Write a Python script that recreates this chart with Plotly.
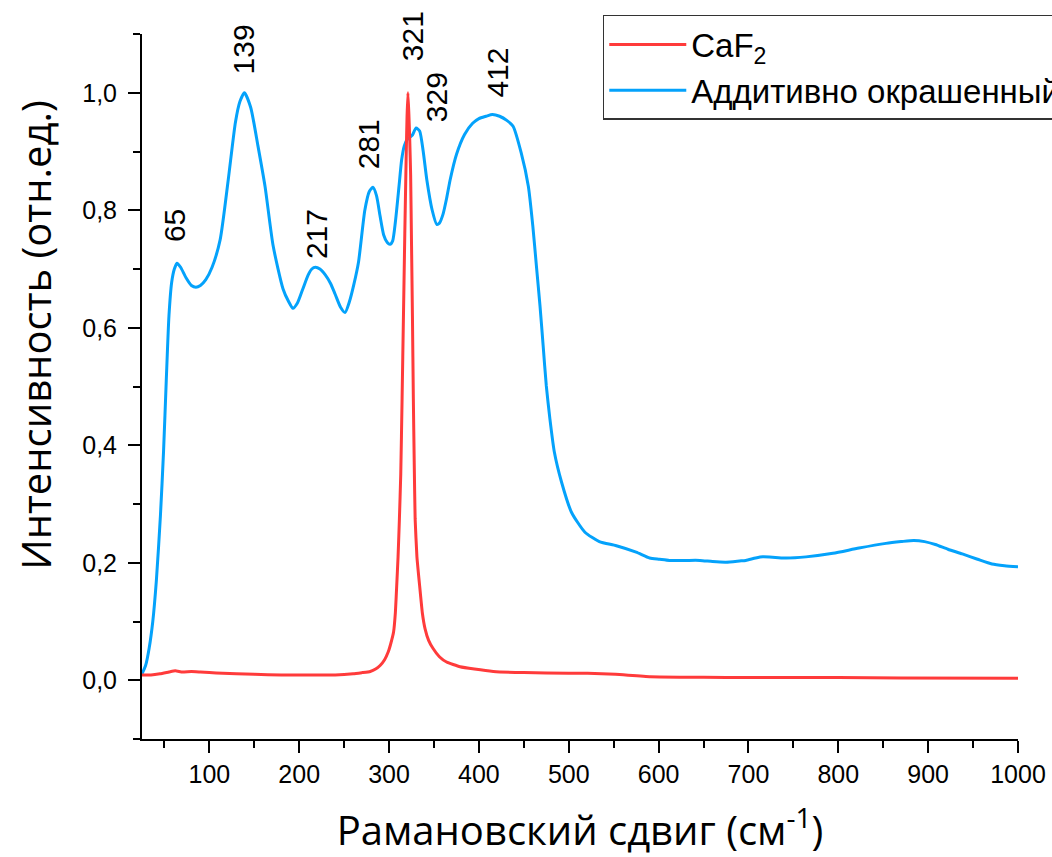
import plotly.graph_objects as go

# ---- data ----
blue_x = [25, 29, 33, 37, 41, 45.5, 49, 52, 55, 58, 61, 64, 68, 74, 80, 85, 90, 96,
          103, 112, 121, 129, 134, 139, 146, 154, 162, 171, 182, 188, 193, 198, 204,
          210, 214, 218, 223, 229, 235, 240, 246, 251, 256, 261, 266, 273, 278, 282,
          286, 290, 294, 298, 301, 304, 307, 311, 314, 317, 320, 323, 326, 330, 334,
          338, 342, 348, 353, 356, 360, 364, 368, 375, 384, 393, 400, 408, 415, 423,
          431, 438, 447, 455, 460, 464, 468, 471.5, 475, 479, 484, 492, 503, 518, 534,
          553, 575, 590, 601, 612, 630, 646, 660, 675, 690, 697, 708, 716, 730, 742,
          764, 794, 823, 853, 870, 884, 896, 908, 922, 938, 955, 971, 985, 1000]
blue_y = [0.011, 0.025, 0.055, 0.10, 0.17, 0.28, 0.39, 0.51, 0.62, 0.677, 0.70, 0.71,
          0.703, 0.685, 0.672, 0.669, 0.672, 0.682, 0.703, 0.75, 0.852, 0.95, 0.985,
          1.0, 0.975, 0.91, 0.84, 0.739, 0.666, 0.645, 0.633, 0.642, 0.666, 0.69, 0.70,
          0.703, 0.70, 0.69, 0.675, 0.657, 0.635, 0.626, 0.645, 0.675, 0.712, 0.80,
          0.832, 0.839, 0.825, 0.79, 0.758, 0.745, 0.742, 0.748, 0.78, 0.84, 0.886,
          0.91, 0.92, 0.924, 0.928, 0.94, 0.935, 0.90, 0.852, 0.80, 0.776, 0.778,
          0.793, 0.82, 0.852, 0.895, 0.929, 0.948, 0.956, 0.96, 0.963, 0.96, 0.953,
          0.943, 0.898, 0.841, 0.773, 0.705, 0.637, 0.569, 0.501, 0.445, 0.388, 0.337,
          0.286, 0.252, 0.236, 0.229, 0.218, 0.208, 0.206, 0.204, 0.204, 0.204, 0.202,
          0.201, 0.203, 0.204, 0.208, 0.21, 0.209, 0.208, 0.21, 0.216, 0.225, 0.233,
          0.236, 0.238, 0.236, 0.231, 0.223, 0.215, 0.206, 0.198, 0.195, 0.193]

red_x = [25, 35, 45, 55, 62, 70, 80, 90, 100, 115, 130, 150, 180, 210, 240, 260, 270,
         279, 285, 290, 295, 299, 302, 305, 307, 308.5, 310, 311.5, 313, 314.5, 316,
         317.5, 319, 320, 321, 322, 323, 324, 325, 326, 327, 328, 329, 331, 334, 337,
         340, 344, 349, 356, 364, 379, 395, 416, 450, 500, 521, 552, 591, 650, 700,
         800, 870, 1000]
red_y = [0.009, 0.009, 0.011, 0.014, 0.016, 0.014, 0.015, 0.014, 0.013, 0.012, 0.011,
         0.010, 0.009, 0.009, 0.009, 0.011, 0.013, 0.015, 0.019, 0.025, 0.035, 0.048,
         0.063, 0.082, 0.115, 0.161, 0.21, 0.275, 0.351, 0.48, 0.62, 0.76, 0.889, 0.96,
         1.0, 0.965, 0.92, 0.86, 0.74, 0.62, 0.48, 0.37, 0.275, 0.21, 0.161, 0.115,
         0.088, 0.068, 0.054, 0.04, 0.031, 0.023, 0.019, 0.015, 0.013, 0.012, 0.012,
         0.010, 0.006, 0.005, 0.0045, 0.0045, 0.004, 0.0035]

peak_labels = ["65", "139", "217", "281", "321", "329", "412"]
label_x = [62, 138, 219, 277, 326, 353, 421]
label_y = [0.742, 1.027, 0.714, 0.867, 1.051, 0.946, 0.988]

series_names = ["CaF<sub>2</sub>", "Аддитивно окрашенный"]
x_title = "Рамановский сдвиг (см<sup>-1</sup>)"
y_title = "Интенсивность (отн.ед.)"

RED = "#ff3b3b"
BLUE = "#04a2fb"
TICK_FONT = dict(family="Liberation Sans, Arial", size=25, color="black")
TITLE_FONT = dict(family="Open Sans, Noto Sans", size=40, color="black")

fig = go.Figure()
fig.add_trace(go.Scatter(x=blue_x, y=blue_y, mode="lines", name=series_names[1],
                         line=dict(color=BLUE, width=3, shape="spline", smoothing=0.6),
                         legendrank=2))
fig.add_trace(go.Scatter(x=red_x, y=red_y, mode="lines", name=series_names[0],
                         line=dict(color=RED, width=3, shape="spline", smoothing=0.4),
                         legendrank=1))

for t, lx, ly in zip(peak_labels, label_x, label_y):
    fig.add_annotation(x=lx, y=ly, xref="x", yref="y", text=t, showarrow=False,
                       textangle=-90, xanchor="center", yanchor="bottom",
                       font=dict(family="Liberation Sans, Arial", size=30, color="black"))

fig.add_annotation(text=y_title, xref="paper", yref="paper", x=0, y=0.572,
                   xshift=-106, textangle=-90, showarrow=False,
                   xanchor="center", yanchor="middle", font=TITLE_FONT)

axis_common = dict(showline=True, linecolor="black", linewidth=2, ticks="outside",
                   ticklen=12, tickwidth=2, tickcolor="black", showgrid=False,
                   zeroline=False, tickfont=TICK_FONT, mirror=False)

fig.update_xaxes(range=[25, 1000], tick0=0, dtick=100,
                 minor=dict(ticks="outside", ticklen=7, tickwidth=2, tickcolor="black",
                            dtick=50, tick0=0, showgrid=False),
                 title=dict(text=x_title, font=TITLE_FONT, standoff=31),
                 **axis_common)
fig.update_yaxes(range=[-0.1, 1.1], tick0=0, dtick=0.2, tickformat=".1f",
                 minor=dict(ticks="outside", ticklen=7, tickwidth=2, tickcolor="black",
                            dtick=0.1, tick0=0, showgrid=False),
                 ticklabelstandoff=6,
                 **axis_common)

fig.update_layout(
    width=1052, height=857,
    margin=dict(l=142, r=34, t=34, b=118, autoexpand=False),
    paper_bgcolor="white", plot_bgcolor="white",
    separators=", ",
    showlegend=True,
    legend=dict(x=0.526, y=1.027, xanchor="left", yanchor="top",
                bgcolor="white", bordercolor="#333333", borderwidth=1.5,
                font=dict(family="Liberation Sans, Arial", size=33, color="black"),
                itemwidth=77, traceorder="normal", tracegroupgap=0),
)

fig.write_html("out.html")
